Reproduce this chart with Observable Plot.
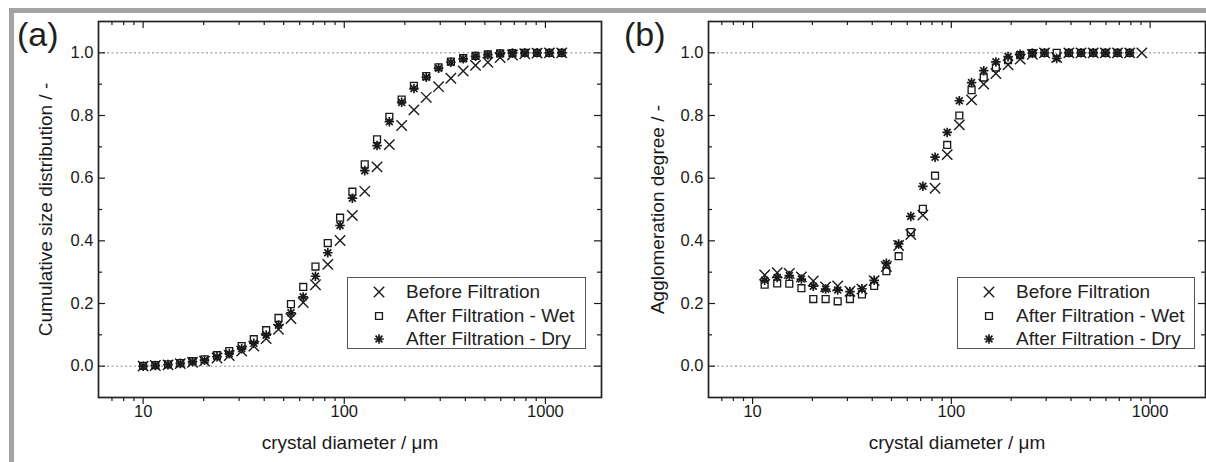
<!DOCTYPE html>
<html><head><meta charset="utf-8">
<script src="https://cdn.jsdelivr.net/npm/d3@7"></script>
<script src="https://cdn.jsdelivr.net/npm/@observablehq/plot@0.6"></script>
<style>
body{margin:0;background:#fff;}
#fig{position:relative;width:1206px;height:462px;overflow:hidden;background:#fff;font-family:"Liberation Sans",Arial,sans-serif;color:#1e1e1e;}
.panel{position:absolute;top:0;}
.bt{position:absolute;left:9px;top:8px;right:0;height:5px;background:#a3a3a3;}
.bl{position:absolute;left:9px;top:8px;bottom:0;width:5px;background:#a3a3a3;}
.tag{position:absolute;font-size:34px;line-height:1;}
.legend{position:absolute;border:1px solid #555;background:#fff;box-sizing:border-box;}
.row{position:absolute;left:0;font-size:19px;line-height:1;white-space:nowrap;}
.row svg{position:absolute;}
.row span{position:absolute;}
</style></head>
<body><div id="fig"></div>
<script>
// ---- data ----
const seriesNames = ["Before Filtration", "After Filtration - Wet", "After Filtration - Dry"];
const xTicksMajor = [10, 100, 1000];
const xTicksMinor = [7, 8, 9, 20, 30, 40, 50, 60, 70, 80, 90, 200, 300, 400, 500, 600, 700, 800, 900];
const yTicksMajor = [0, 0.2, 0.4, 0.6, 0.8, 1.0];
const yTicksMinor = [0.1, 0.3, 0.5, 0.7, 0.9];
const xDomain = [6, 1900];
const yDomain = [-0.1, 1.1];
const refLines = [0, 1];

// panel (a): cumulative size distribution
const sizeA = [10.0, 11.5, 13.3, 15.3, 17.6, 20.2, 23.3, 26.8, 30.9, 35.5, 40.9, 47.1, 54.3, 62.5, 71.9, 82.8, 95.3, 109.7, 126.4, 145.5, 167.5, 192.9, 222.0, 255.6, 294.3, 338.8, 390.1, 449.2, 517.2, 595.5, 685.5, 789.3, 908.7, 1046, 1205];
const cumBefore = [0.000, 0.002, 0.004, 0.008, 0.012, 0.016, 0.026, 0.034, 0.048, 0.064, 0.088, 0.118, 0.152, 0.203, 0.260, 0.325, 0.401, 0.481, 0.558, 0.636, 0.707, 0.768, 0.818, 0.858, 0.892, 0.919, 0.942, 0.960, 0.970, 0.985, 0.993, 0.997, 0.999, 1.000, 1.000];
const cumWet = [0.001, 0.003, 0.006, 0.010, 0.016, 0.022, 0.035, 0.048, 0.064, 0.086, 0.115, 0.154, 0.198, 0.253, 0.318, 0.393, 0.474, 0.557, 0.644, 0.724, 0.796, 0.851, 0.895, 0.926, 0.954, 0.972, 0.983, 0.990, 0.995, 0.998, 0.999, 1.000, 1.000, 1.000, 1.000];
const cumDry = [0.000, 0.002, 0.005, 0.009, 0.014, 0.019, 0.030, 0.040, 0.056, 0.073, 0.099, 0.131, 0.170, 0.221, 0.287, 0.362, 0.449, 0.536, 0.624, 0.704, 0.780, 0.842, 0.886, 0.922, 0.951, 0.970, 0.981, 0.989, 0.994, 0.997, 0.999, 1.000, 1.000, 1.000, 1.000];

// panel (b): agglomeration degree
const sizeB = [11.5, 13.3, 15.3, 17.6, 20.2, 23.3, 26.8, 30.9, 35.5, 40.9, 47.1, 54.3, 62.5, 71.9, 82.8, 95.3, 109.7, 126.4, 145.5, 167.5, 192.9, 222.0, 255.6, 294.3, 338.8, 390.1, 449.2, 517.2, 595.5, 685.5, 789.3, 908.7];
const aggBefore = [0.291, 0.298, 0.296, 0.285, 0.272, 0.253, 0.256, 0.239, 0.246, 0.273, 0.318, 0.385, 0.420, 0.482, 0.568, 0.675, 0.770, 0.850, 0.900, 0.934, 0.962, 0.980, 0.995, 1.000, 0.985, 1.000, 1.000, 1.000, 1.000, 1.000, 1.000, 1.000];
const aggWet = [0.260, 0.264, 0.263, 0.249, 0.214, 0.214, 0.207, 0.214, 0.229, 0.256, 0.303, 0.351, 0.428, 0.502, 0.608, 0.706, 0.800, 0.881, 0.921, 0.953, 0.977, 0.993, 0.999, 1.000, 1.000, 1.000, 1.000, 1.000, 1.000, 1.000, 1.000, null];
const aggDry = [0.274, 0.283, 0.289, 0.278, 0.255, 0.246, 0.243, 0.238, 0.247, 0.274, 0.328, 0.390, 0.478, 0.574, 0.667, 0.746, 0.847, 0.905, 0.943, 0.971, 0.988, 0.995, 0.999, 1.000, 0.982, 1.000, 1.000, 1.000, 1.000, 1.000, 1.000, null];

// ---- symbols ----
const crossSym = {draw(c, size){const s = Math.sqrt(size/Math.PI); c.moveTo(-s,-s); c.lineTo(s,s); c.moveTo(-s,s); c.lineTo(s,-s);}};
const squareSym = {draw(c, size){const s = Math.sqrt(size/Math.PI)*0.66; c.rect(-s,-s,2*s,2*s);}};
const starSym = {draw(c, size){const s = Math.sqrt(size/Math.PI)*0.92, d = s*0.72;
  c.moveTo(-s,0); c.lineTo(s,0); c.moveTo(0,-s); c.lineTo(0,s);
  c.moveTo(-d,-d); c.lineTo(d,d); c.moveTo(-d,d); c.lineTo(d,-d);}};
const symbols = [crossSym, squareSym, starSym];
const strokeWidths = [1.4, 1.35, 1.7];
const R = 5.2;
const ink = "#1a1a1a";

function rows(xs, ys, name){ return xs.map((x,i)=>({x, y: ys[i], s: name})); }

function panel(cfg){
  const innerW = cfg.width - cfg.ml - cfg.mr;
  const innerH = cfg.height - cfg.mt - cfg.mb;
  const yPx = (yDomain[1]-yDomain[0]) / innerH;
  const xPx = (Math.log10(xDomain[1]) - Math.log10(xDomain[0])) / innerW;
  const maj = 7, mnr = 4;
  const xIn = px => Math.pow(10, px*xPx);
  const marks = [
    Plot.ruleY(refLines, {stroke: "#8a8a8a", strokeWidth: 1, strokeDasharray: "2,2.5"}),
    // bottom ticks (outward)
    Plot.ruleX(xTicksMajor, {x: d=>d, y1: yDomain[0], y2: yDomain[0] - maj*yPx, stroke: ink, strokeWidth: 1.2}),
    Plot.ruleX(xTicksMinor, {x: d=>d, y1: yDomain[0], y2: yDomain[0] - mnr*yPx, stroke: ink, strokeWidth: 1.2}),
    // top ticks (inward)
    Plot.ruleX(xTicksMajor, {x: d=>d, y1: yDomain[1], y2: yDomain[1] - maj*yPx, stroke: ink, strokeWidth: 1.2}),
    Plot.ruleX(xTicksMinor, {x: d=>d, y1: yDomain[1], y2: yDomain[1] - mnr*yPx, stroke: ink, strokeWidth: 1.2}),
    // left ticks (inward)
    Plot.ruleY(yTicksMajor, {y: d=>d, x1: xDomain[0], x2: xDomain[0]*xIn(maj), stroke: ink, strokeWidth: 1.2}),
    Plot.ruleY(yTicksMinor, {y: d=>d, x1: xDomain[0], x2: xDomain[0]*xIn(mnr), stroke: ink, strokeWidth: 1.2}),
    // right ticks (inward)
    Plot.ruleY(yTicksMajor, {y: d=>d, x1: xDomain[1], x2: xDomain[1]/xIn(maj), stroke: ink, strokeWidth: 1.2}),
    Plot.ruleY(yTicksMinor, {y: d=>d, x1: xDomain[1], x2: xDomain[1]/xIn(mnr), stroke: ink, strokeWidth: 1.2}),
    // tick labels
    Plot.text(xTicksMajor, {x: d=>d, frameAnchor: "bottom", dy: 19, text: d=>String(d), fontSize: 16.5, fill: ink}),
    Plot.text(yTicksMajor, {y: d=>d, frameAnchor: "left", dx: -5, textAnchor: "end", text: d=>d3.format(".1f")(d), fontSize: 16.5, fill: ink}),
    // axis titles
    Plot.text(["crystal diameter / \u03bcm"], {frameAnchor: "bottom", dy: 51, fontSize: 19, fill: ink}),
    Plot.text([cfg.yTitle], {frameAnchor: "left", dx: cfg.ytDx, textAnchor: "middle", rotate: -90, fontSize: 19, fill: ink}),
  ];
  cfg.series.forEach((d,i)=>{
    marks.push(Plot.dot(d, {x: "x", y: "y", symbol: ()=>symbols[i], r: R, fill: "none", stroke: ink, strokeWidth: strokeWidths[i]}));
  });
  marks.push(Plot.frame({stroke: "#222", strokeWidth: 1.7}));
  return Plot.plot({
    width: cfg.width, height: cfg.height,
    marginLeft: cfg.ml, marginRight: cfg.mr, marginTop: cfg.mt, marginBottom: cfg.mb,
    x: {type: "log", domain: xDomain, axis: null},
    y: {domain: yDomain, axis: null},
    symbol: {type: "identity"},
    style: {background: "transparent", overflow: "visible", fontFamily: '"Liberation Sans", Arial, sans-serif'},
    marks
  });
}

const fig = document.getElementById("fig");
function place(el, left){ const w = document.createElement("div"); w.className = "panel"; w.style.left = left + "px"; w.appendChild(el); fig.appendChild(w); }

place(panel({width: 603, height: 462, ml: 98, mr: 2, mt: 21, mb: 65, yTitle: "Cumulative size distribution / -", ytDx: -53,
  series: [rows(sizeA, cumBefore, seriesNames[0]), rows(sizeA, cumWet, seriesNames[1]), rows(sizeA, cumDry, seriesNames[2])]}), 0);
place(panel({width: 603, height: 462, ml: 105, mr: 1, mt: 21, mb: 65, yTitle: "Agglomeration degree / -", ytDx: -51,
  series: [rows(sizeB, aggBefore, seriesNames[0]), rows(sizeB, aggWet, seriesNames[1]), rows(sizeB, aggDry, seriesNames[2])]}), 603);

// decorative border
["bt","bl"].forEach(c=>{const d=document.createElement("div"); d.className=c; fig.appendChild(d);});

// panel tags
[["(a)", 17, 17], ["(b)", 624, 17]].forEach(([t,l,tp])=>{const d=document.createElement("div"); d.className="tag"; d.textContent=t; d.style.left=l+"px"; d.style.top=tp+"px"; fig.appendChild(d);});

// legends
function symSvg(i){
  const p = d3.path(); symbols[i].draw(p, Math.PI*R*R);
  return `<svg width="16" height="16" viewBox="-8 -8 16 16" style="margin-left:31px;left:-8px;top:-8px"><path d="${p.toString()}" fill="none" stroke="${ink}" stroke-width="${strokeWidths[i]}"/></svg>`;
}
function legend(left, top, width, height){
  const box = document.createElement("div"); box.className = "legend";
  Object.assign(box.style, {left: left+"px", top: top+"px", width: width+"px", height: height+"px"});
  const rowY = [13.5, 37.5, 61];
  seriesNames.forEach((n,i)=>{
    const r = document.createElement("div"); r.className = "row"; r.style.top = rowY[i] + "px";
    r.innerHTML = symSvg(i) + `<span style="left:58px;top:-10px">${n}</span>`;
    box.appendChild(r);
  });
  fig.appendChild(box);
}
legend(347, 277, 239, 72);
legend(957, 277, 238, 72);
</script></body></html>
